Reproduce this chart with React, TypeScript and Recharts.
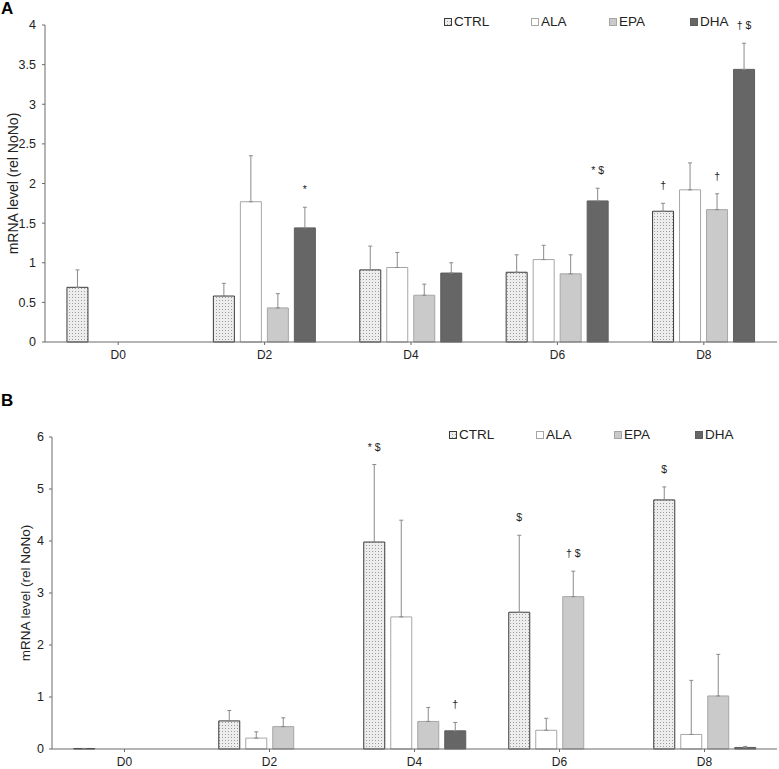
import { Bar, BarChart, ErrorBar, LabelList, Legend, XAxis, YAxis } from 'recharts';

const days = ['D0', 'D2', 'D4', 'D6', 'D8'];
const seriesNames = ['CTRL', 'ALA', 'EPA', 'DHA'];

type Num = number | null;

// panel A values (mean, upper SD) per series
const ctrlA: Num[] = [0.69, 0.58, 0.91, 0.88, 1.65];
const ctrlErrA: Num[] = [0.22, 0.16, 0.3, 0.22, 0.1];
const alaA: Num[] = [null, 1.77, 0.94, 1.04, 1.92];
const alaErrA: Num[] = [null, 0.58, 0.19, 0.18, 0.34];
const epaA: Num[] = [null, 0.43, 0.59, 0.86, 1.67];
const epaErrA: Num[] = [null, 0.18, 0.14, 0.24, 0.2];
const dhaA: Num[] = [null, 1.44, 0.87, 1.78, 3.44];
const dhaErrA: Num[] = [null, 0.26, 0.13, 0.16, 0.33];
const sigA: string[][] = [
  ['', '', '', '', '†'],
  ['', '', '', '', ''],
  ['', '', '', '', '†'],
  ['', '*', '', '* $', '† $'],
];

// panel B
const ctrlB: Num[] = [0.01, 0.54, 3.98, 2.63, 4.79];
const ctrlErrB: Num[] = [0, 0.2, 1.49, 1.48, 0.25];
const alaB: Num[] = [null, 0.21, 2.54, 0.36, 0.28];
const alaErrB: Num[] = [null, 0.12, 1.86, 0.23, 1.04];
const epaB: Num[] = [null, 0.43, 0.53, 2.93, 1.02];
const epaErrB: Num[] = [null, 0.17, 0.27, 0.49, 0.8];
const dhaB: Num[] = [null, null, 0.35, null, 0.03];
const dhaErrB: Num[] = [null, null, 0.16, null, 0.02];
const sigB: string[][] = [
  ['', '', '* $', '$', '$'],
  ['', '', '', '', ''],
  ['', '', '', '† $', ''],
  ['', '', '†', '', ''],
];

const ticksA = [0, 0.5, 1, 1.5, 2, 2.5, 3, 3.5, 4];
const ticksB = [0, 1, 2, 3, 4, 5, 6];

const font = '"Liberation Sans", Arial, sans-serif';

const seriesStyle: Record<string, { fill: string; stroke: string }> = {
  CTRL: { fill: 'url(#ctrlDots)', stroke: '#3a3a3a' },
  ALA: { fill: '#ffffff', stroke: '#a6a6a6' },
  EPA: { fill: '#cacaca', stroke: '#a6a6a6' },
  DHA: { fill: '#666666', stroke: '#5e5e5e' },
};

// width of each legend entry (icon + text + spacing)
const legendSlots = [87, 78, 81, 40];

const buildRows = (vals: Num[][], errs: Num[][], sigs: string[][]) =>
  days.map((day, i) => {
    const row: Record<string, any> = { day };
    seriesNames.forEach((name, s) => {
      row[name] = vals[s][i];
      row[name + 'Err'] = [0, errs[s][i] ?? 0];
      row[name + 'Sig'] = sigs[s][i];
    });
    return row;
  });

const rowsA = buildRows([ctrlA, alaA, epaA, dhaA], [ctrlErrA, alaErrA, epaErrA, dhaErrA], sigA);
const rowsB = buildRows([ctrlB, alaB, epaB, dhaB], [ctrlErrB, alaErrB, epaErrB, dhaErrB], sigB);

// label value carries the mark text plus the bar's mean and SD
const sigValue = (name: string) => (row: Record<string, any>) =>
  row[name + 'Sig'] ? { text: row[name + 'Sig'], v: row[name], err: row[name + 'Err'][1] } : null;

// significance marks sit a little above the top of the error bar
const SigLabel = (props: any) => {
  const { value } = props;
  if (!value || typeof value !== 'object' || !value.v) return null;
  const vb = props.viewBox ?? props;
  const perUnit = vb.height / value.v;
  const errTop = vb.y - value.err * perUnit;
  return (
    <text x={vb.x + vb.width / 2} y={errTop - 14} textAnchor="middle" fontSize={10.5} fontFamily={font} fill="#222">
      {value.text}
    </text>
  );
};

const LegendRow = () => (
  <div style={{ display: 'flex', fontFamily: font, fontSize: 13.5, color: '#222', alignItems: 'center' }}>
    {seriesNames.map((name, i) => (
      <div key={name} style={{ display: 'flex', alignItems: 'center', width: legendSlots[i] }}>
        <svg width={8} height={8} style={{ marginRight: 2 }}>
          <rect x={0.5} y={0.5} width={7} height={7} fill={seriesStyle[name].fill} stroke={seriesStyle[name].stroke} />
        </svg>
        {name}
      </div>
    ))}
  </div>
);

interface PanelProps {
  rows: Record<string, any>[];
  height: number;
  marginTop: number;
  marginBottom: number;
  xHeight: number;
  yWidth: number;
  yMax: number;
  ticks: number[];
  tickMargin: number;
  labelOffset: number;
  labelSize: number;
  legendTop: number;
  legendLeft: number;
}

const Panel = (p: PanelProps) => (
  <BarChart
    width={779}
    height={p.height}
    data={p.rows}
    margin={{ top: p.marginTop, right: 2, bottom: p.marginBottom, left: 0 }}
    barCategoryGap="15%"
    barGap={6}
  >
    <XAxis
      dataKey="day"
      height={p.xHeight}
      tickSize={3}
      tickMargin={5}
      stroke="#6a6a6a"
      tick={{ fill: '#222', fontSize: 12, fontFamily: font }}
    />
    <YAxis
      width={p.yWidth}
      domain={[0, p.yMax]}
      ticks={p.ticks}
      interval={0}
      tickSize={3}
      tickMargin={p.tickMargin}
      stroke="#6a6a6a"
      tick={{ fill: '#222', fontSize: 12.5, fontFamily: font }}
      label={{
        value: 'mRNA level (rel NoNo)',
        angle: -90,
        position: 'insideLeft',
        offset: p.labelOffset,
        style: { textAnchor: 'middle', fontSize: p.labelSize, fontFamily: font, fill: '#222' },
      }}
    />
    <Legend
      layout="horizontal"
      verticalAlign="middle"
      align="center"
      content={() => <LegendRow />}
      wrapperStyle={{ top: p.legendTop, left: p.legendLeft, width: 'auto' }}
    />
    {seriesNames.map((name) => (
      <Bar
        key={name}
        dataKey={name}
        fill={seriesStyle[name].fill}
        stroke={seriesStyle[name].stroke}
        strokeWidth={1}
        isAnimationActive={false}
      >
        <ErrorBar dataKey={name + 'Err'} width={2} stroke="#8a8a8a" strokeWidth={1} direction="y" isAnimationActive={false} />
        <LabelList dataKey={sigValue(name)} content={SigLabel} />
      </Bar>
    ))}
  </BarChart>
);

export default function App() {
  return (
    <div style={{ position: 'absolute', top: 0, left: 0, width: 779, height: 769, background: '#fff' }}>
      <svg width={0} height={0} style={{ position: 'absolute' }}>
        <defs>
          <pattern id="ctrlDots" width={3} height={3} patternUnits="userSpaceOnUse">
            <rect width={3} height={3} fill="#ededed" />
            <rect width={1} height={1} fill="#9c9c9c" />
          </pattern>
        </defs>
      </svg>
      <div style={{ position: 'absolute', top: 0, left: 1, fontFamily: font, fontWeight: 'bold', fontSize: 17, lineHeight: '17px' }}>A</div>
      <div style={{ position: 'absolute', top: 392, left: 1, fontFamily: font, fontWeight: 'bold', fontSize: 17, lineHeight: '17px' }}>B</div>
      <div style={{ position: 'absolute', top: 0, left: 0 }}>
        <Panel
          rows={rowsA}
          height={375}
          marginTop={25}
          marginBottom={3}
          xHeight={30}
          yWidth={45}
          yMax={4}
          ticks={ticksA}
          tickMargin={6}
          labelOffset={13}
          labelSize={14}
          legendTop={14}
          legendLeft={444}
        />
      </div>
      <div style={{ position: 'absolute', top: 380, left: 0 }}>
        <Panel
          rows={rowsB}
          height={389}
          marginTop={57}
          marginBottom={0}
          xHeight={20}
          yWidth={52}
          yMax={6}
          ticks={ticksB}
          tickMargin={5}
          labelOffset={25}
          labelSize={13.5}
          legendTop={47}
          legendLeft={449}
        />
      </div>
    </div>
  );
}
